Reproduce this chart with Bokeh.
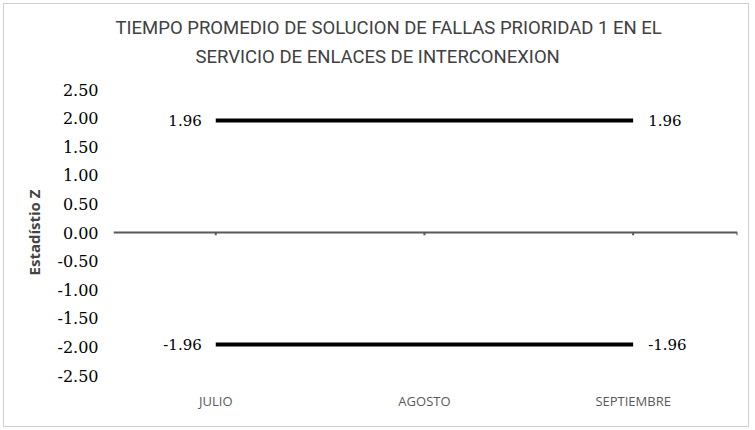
from bokeh.plotting import figure
from bokeh.models import Span, Range1d, FixedTicker, Title, ColumnDataSource
from bokeh.core.properties import value
from bokeh.embed import file_html
from bokeh.resources import INLINE

months = ["JULIO", "AGOSTO", "SEPTIEMBRE"]
upper = [1.96, 1.96, 1.96]
lower = [-1.96, -1.96, -1.96]
y_ticks = [-2.5, -2.0, -1.5, -1.0, -0.5, 0.0, 0.5, 1.0, 1.5, 2.0, 2.5]

xs = list(range(len(months)))

p = figure(width=746, height=424, output_backend="svg", toolbar_location=None,
           x_range=Range1d(-0.49, 2.5), y_range=Range1d(-2.5, 2.5),
           min_border_left=109, min_border_right=13, min_border_top=85,
           min_border_bottom=53)
p.styles = {"margin-left": "3px", "margin-top": "3px", "border": "1px solid #d0d0d0"}
p.outline_line_color = None
p.xgrid.grid_line_color = None
p.ygrid.grid_line_color = None
p.background_fill_color = "white"
p.border_fill_color = "white"

spacer = Title(text=" ", text_font_size="1px", standoff=14)
t2 = Title(text="SERVICIO DE ENLACES DE INTERCONEXION", align="left",
           text_font="Roboto", text_font_size="18.5px", text_font_style="normal",
           text_color="#404040", standoff=10, offset=82)
t1 = Title(text="TIEMPO PROMEDIO DE SOLUCION DE FALLAS PRIORIDAD 1 EN EL", align="left",
           text_font="Roboto", text_font_size="18.5px", text_font_style="normal",
           text_color="#404040", standoff=0, offset=2)
p.add_layout(spacer, "above")
p.add_layout(t2, "above")
p.add_layout(t1, "above")

# y axis
p.yaxis.ticker = FixedTicker(ticks=y_ticks)
p.yaxis.major_label_overrides = {v: f"{v:.2f}" for v in y_ticks}
p.yaxis.axis_line_color = None
p.yaxis.major_tick_line_color = None
p.yaxis.minor_tick_line_color = None
p.yaxis.major_label_text_font = "DejaVu Serif"
p.yaxis.major_label_text_font_size = "16px"
p.yaxis.major_label_text_color = "#000000"
p.yaxis.major_label_standoff = 9
p.yaxis.axis_label = "Estadístio Z"
p.yaxis.axis_label_text_font = "Open Sans"
p.yaxis.axis_label_text_font_style = "bold"
p.yaxis.axis_label_text_font_size = "15px"
p.yaxis.axis_label_standoff = 10

# x axis (labels only)
p.xaxis.ticker = FixedTicker(ticks=xs)
p.xaxis.major_label_overrides = {i: m for i, m in enumerate(months)}
p.xaxis.axis_line_color = None
p.xaxis.major_tick_line_color = None
p.xaxis.minor_tick_line_color = None
p.xaxis.major_label_text_font = "Open Sans"
p.xaxis.major_label_text_font_size = "13px"
p.xaxis.major_label_text_color = "#595959"
p.xaxis.major_label_standoff = 10

# zero line with ticks
p.add_layout(Span(location=0, dimension="width", line_color="#595959", line_width=2))
tick_x = xs + [2.5]
p.segment(x0=tick_x, x1=tick_x, y0=[0] * len(tick_x), y1=[-0.05] * len(tick_x),
          line_color="#595959", line_width=2)

# series lines
p.line(xs, upper, line_color="black", line_width=4)
p.line(xs, lower, line_color="black", line_width=4)

# data labels at first and last points
left_src = ColumnDataSource(dict(x=[xs[0], xs[0]], y=[upper[0], lower[0]],
                                 t=[f"{upper[0]:.2f}", f"{lower[0]:.2f}"]))
right_src = ColumnDataSource(dict(x=[xs[-1], xs[-1]], y=[upper[-1], lower[-1]],
                                  t=[f"{upper[-1]:.2f}", f"{lower[-1]:.2f}"]))
p.text(x="x", y="y", text="t", source=left_src, text_align="right", text_baseline="middle",
       x_offset=-14, text_font=value("DejaVu Serif"), text_font_size="15px", text_color="black")
p.text(x="x", y="y", text="t", source=right_src, text_align="left", text_baseline="middle",
       x_offset=15, text_font=value("DejaVu Serif"), text_font_size="15px", text_color="black")

open("out.html", "w").write(file_html(p, INLINE))
